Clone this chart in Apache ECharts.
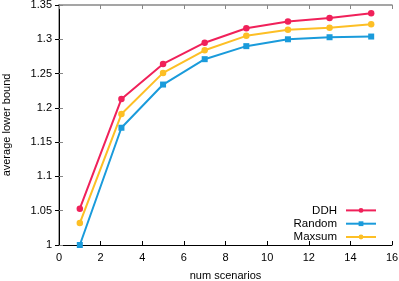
<!DOCTYPE html>
<html><head><meta charset="utf-8">
<script src="https://cdn.jsdelivr.net/npm/echarts@6/dist/echarts.min.js"></script>
<style>html,body{margin:0;padding:0;background:#fff}#c{width:399px;height:281px}</style>
</head><body><div id="c"></div>
<script>
const scenarios = [1, 3, 5, 7, 9, 11, 13, 15];
const ddh = [1.053, 1.213, 1.264, 1.295, 1.316, 1.326, 1.331, 1.338];
const random = [1.000, 1.171, 1.234, 1.271, 1.290, 1.300, 1.303, 1.304];
const maxsum = [1.032, 1.191, 1.251, 1.284, 1.305, 1.314, 1.317, 1.322];
const seriesNames = ['DDH', 'Random', 'Maxsum'];
const colors = ['#f0215a', '#1a9bdb', '#fdbf25'];
const symbols = ['circle', 'rect', 'circle'];
const values = [ddh, random, maxsum];

const font = 'Liberation Sans, Arial, sans-serif';
const chart = echarts.init(document.getElementById('c'));
const axBase = {
  type: 'value', splitLine: {show: false},
  axisTick: {show: true, inside: true, length: 4},
};
chart.setOption({
  animation: false,
  grid: {left: 59, right: 7, top: 5, bottom: 36, containLabel: false, outerBoundsMode: 'none'},
  legend: {
    right: 17, bottom: 33, orient: 'vertical', align: 'right',
    itemWidth: 30, itemHeight: 6, itemGap: 1.3,
    textStyle: {fontFamily: font, fontSize: 11.5, color: '#000', padding: [0, 4, 0, 0]},
    data: seriesNames
  },
  xAxis: [
    Object.assign({}, axBase, {
      min: 0, max: 16, interval: 2, position: 'bottom',
      name: 'num scenarios', nameLocation: 'middle', nameGap: 25,
      nameTextStyle: {fontFamily: font, fontSize: 11, color: '#000'},
      axisLine: {show: true, lineStyle: {color: '#000', width: 1}},
      axisTick: {show: true, inside: true, length: 4, lineStyle: {color: '#000'}},
      axisLabel: {fontFamily: font, fontSize: 11, color: '#000', margin: 7}
    }),
    Object.assign({}, axBase, {
      min: 0, max: 16, interval: 2, position: 'top',
      axisLine: {show: true, lineStyle: {color: '#888', width: 1.5}},
      axisTick: {show: true, inside: true, length: 4, lineStyle: {color: '#888'}},
      axisLabel: {show: false}
    })
  ],
  yAxis: [
    Object.assign({}, axBase, {
      min: 1, max: 1.35, interval: 0.05, position: 'left',
      name: 'average lower bound', nameLocation: 'middle', nameGap: 47,
      nameTextStyle: {fontFamily: font, fontSize: 11, color: '#000'},
      axisLine: {show: true, lineStyle: {color: '#888', width: 1.5}},
      axisTick: {show: true, inside: true, length: 4, lineStyle: {color: '#888'}},
      axisLabel: {fontFamily: font, fontSize: 11, color: '#000', margin: 7,
        formatter: v => String(parseFloat(v.toFixed(2)))}
    }),
    Object.assign({}, axBase, {
      min: 1, max: 1.35, interval: 0.05, position: 'right',
      axisLine: {show: true, lineStyle: {color: '#000', width: 1}},
      axisTick: {show: true, inside: true, length: 4, lineStyle: {color: '#000'}},
      axisLabel: {show: false}
    })
  ],
  series: seriesNames.map((n, i) => ({
    name: n, type: 'line',
    data: scenarios.map((x, j) => [x, values[i][j]]),
    symbol: symbols[i], symbolSize: i === 1 ? 6 : 6.5,
    lineStyle: {color: colors[i], width: 2},
    itemStyle: {color: colors[i]},
    z: 3 - i
  }))
});
</script></body></html>
